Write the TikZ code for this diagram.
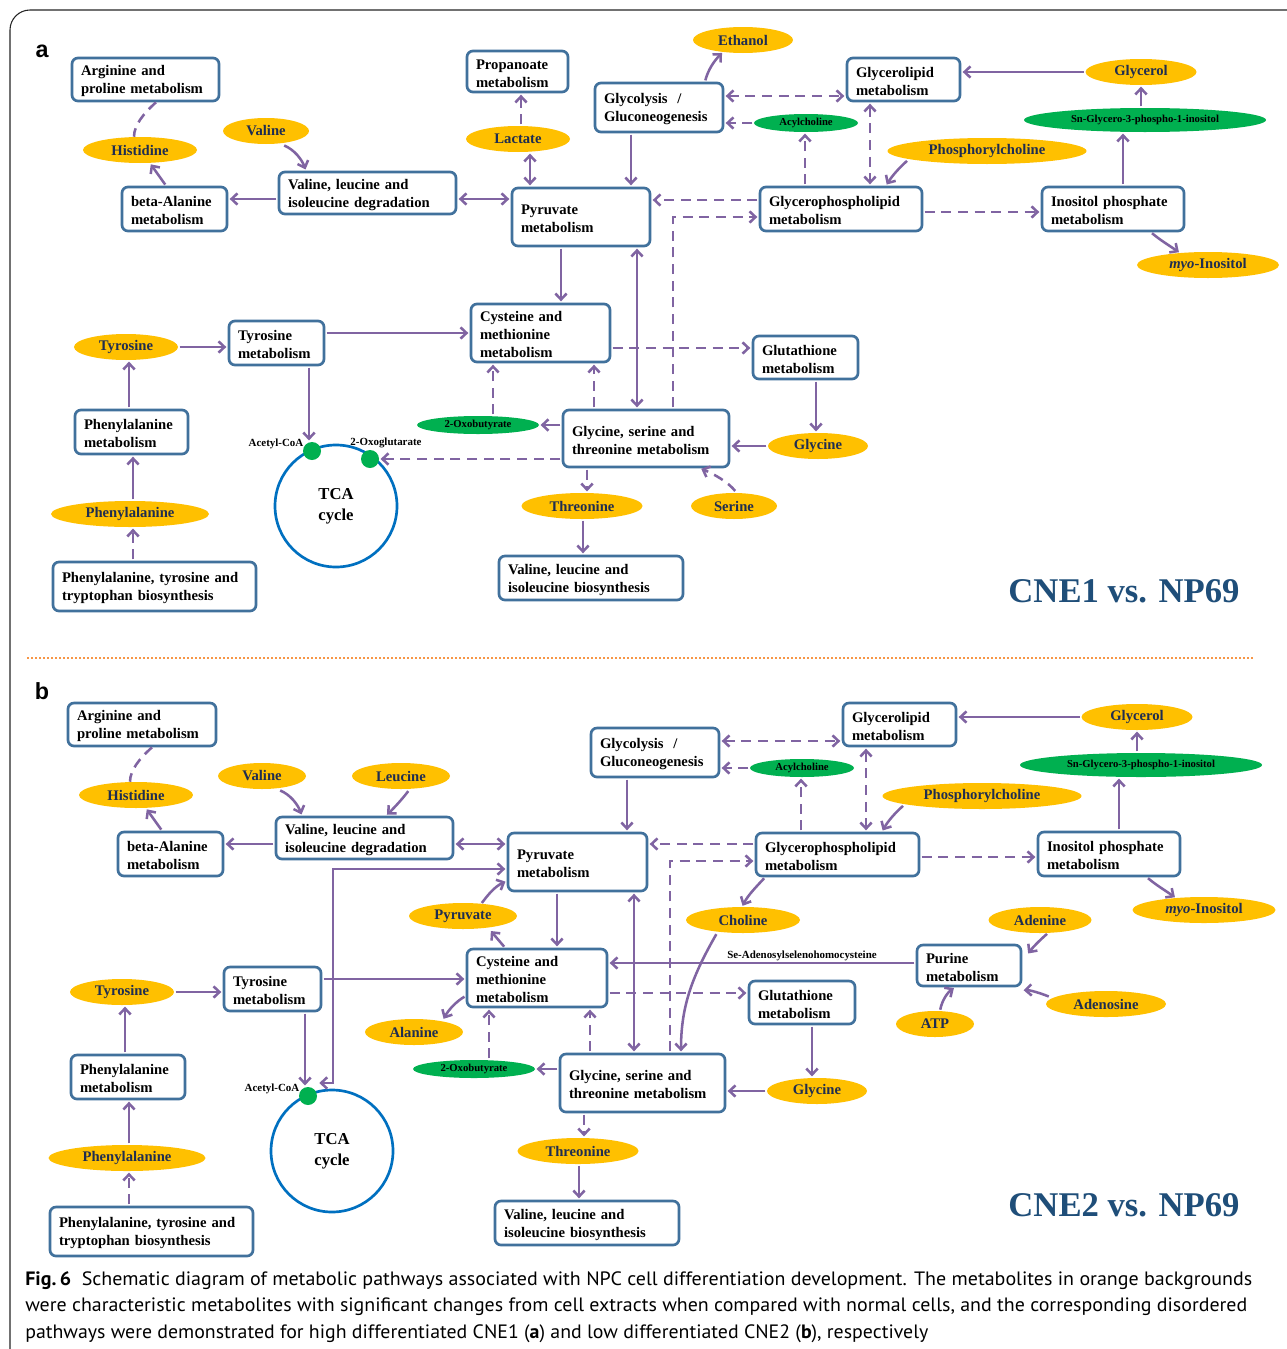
\documentclass[tikz,border=0pt]{standalone}
\usepackage{fontspec}
\usepackage{graphicx}
\setmainfont{Liberation Serif}
\newfontfamily\lblfont{Liberation Sans}
\newfontfamily\capfont{PT Sans}
\usetikzlibrary{arrows.meta,shapes.geometric,calc}
\definecolor{boxblue}{RGB}{65,113,156}
\definecolor{purp}{RGB}{128,100,162}
\definecolor{orangeY}{RGB}{255,192,0}
\definecolor{greenE}{RGB}{0,176,80}
\definecolor{tcablue}{RGB}{0,112,192}
\definecolor{navytxt}{RGB}{31,45,80}
\definecolor{titleblue}{RGB}{31,78,121}
\definecolor{sepor}{RGB}{247,150,70}
\tikzset{
  pb/.tip={Straight Barb[length=4.5pt,width=8.5pt]},
  pbox/.style={draw=boxblue, line width=2pt, rounded corners=4.5pt, fill=white,
    align=left, inner xsep=6.75pt, inner ysep=0pt,
    execute at begin node={\rule{0pt}{10.5pt}},
    font=\bfseries\fontsize{11}{13.5}\selectfont},
  orel/.style={ellipse, fill=orangeY, inner sep=0pt, text=navytxt,
    font=\bfseries\fontsize{11}{13}\selectfont},
  grel/.style={ellipse, fill=greenE, inner sep=0pt, text=black,
    font=\bfseries\fontsize{8}{9}\selectfont},
  smalllbl/.style={inner sep=0pt, font=\bfseries\fontsize{8.2}{9}\selectfont},
  dotnode/.style={circle, fill=greenE, inner sep=0pt, minimum size=13.5pt},
  tcanode/.style={circle, draw=tcablue, line width=2pt, minimum size=91.5pt,
    align=center, font=\bfseries\fontsize{12.5}{15.5}\selectfont},
  ln/.style={draw=purp, line width=1.9pt},
  arr/.style={ln, -pb, shorten >=1pt, shorten <=1pt},
  darr/.style={ln, pb-pb, shorten >=1pt, shorten <=1pt},
  dsh/.style={dash pattern=on 7.5pt off 5pt},
}
\newcommand{\PBox}[6]{%
  \pgfmathsetmacro\pbW{(#4-#2)*0.75}%
  \pgfmathsetmacro\pbT{(#4-#2-18)*0.75}%
  \pgfmathsetmacro\pbH{(#5-#3)*0.75}%
  \pgfmathsetmacro\pbX{(#2+#4)/2}%
  \pgfmathsetmacro\pbY{(#3+#5)/2}%
  \node[pbox, minimum width=\pbW pt, minimum height=\pbH pt, text width=\pbT pt] (#1) at (\pbX,\pbY) {#6};}
\newcommand{\PEll}[7]{%
  \pgfmathsetmacro\peW{#4*0.75}%
  \pgfmathsetmacro\peH{#5*0.75}%
  \node[#6, minimum width=\peW pt, minimum height=\peH pt] (#1) at (#2,#3) {#7};}
\begin{document}
\begin{tikzpicture}[x=0.75pt,y=-0.75pt]
\useasboundingbox (0,0) rectangle (1287,1349);
\fill[white] (0,0) rectangle (1287,1349);
% frame and separator
\draw[line width=0.8pt, black!85, rounded corners=15pt] (10,1349) -- (10,10) -- (1287,10);
\draw[sepor, line width=1.6pt, dash pattern=on 1.5pt off 1.5pt] (27,658) -- (1255,658);
\node[font=\lblfont\bfseries\fontsize{17.5}{18}\selectfont] (labA) at (42,51) {a};
\node[font=\lblfont\bfseries\fontsize{17.5}{18}\selectfont] (labB) at (42,691) {b};

% ================= PANEL A =================
\PBox{aArg}{72}{58}{219}{101}{Arginine and\\proline metabolism}
\PBox{aBeta}{122}{187}{227}{231}{beta-Alanine\\metabolism}
\PBox{aVdeg}{279}{172}{456}{214}{Valine, leucine and\\isoleucine degradation}
\PBox{aProp}{467}{51}{568}{92}{Propanoate\\metabolism}
\PBox{aGlyc}{595}{83}{723}{132}{Glycolysis\ \ /\\Gluconeogenesis}
\PBox{aPyr}{512}{188}{650}{246}{Pyruvate\\metabolism}
\PBox{aGlipid}{847}{58}{960}{101}{Glycerolipid\\metabolism}
\PBox{aGphos}{760}{187}{922}{231}{Glycerophospholipid\\metabolism}
\PBox{aInos}{1042}{187}{1184}{231}{Inositol phosphate\\metabolism}
\PBox{aCys}{471}{304}{610}{362}{Cysteine and\\methionine\\metabolism}
\PBox{aTyrM}{229}{321}{324}{365}{Tyrosine\\metabolism}
\PBox{aGlut}{753}{336}{858}{379}{Glutathione\\metabolism}
\PBox{aPheM}{75}{410}{188}{454}{Phenylalanine\\metabolism}
\PBox{aGst}{563}{410}{729}{467}{Glycine, serine and\\threonine metabolism}
\PBox{aPTT}{53}{562}{256}{611}{Phenylalanine, tyrosine and\\tryptophan biosynthesis}
\PBox{aVbio}{499}{556}{683}{600}{Valine, leucine and\\isoleucine biosynthesis}

\PEll{aEth}{743}{40}{100}{26}{orel}{Ethanol}
\PEll{aGlyol}{1141}{72}{111}{26}{orel}{Glycerol}
\PEll{aVal}{266}{131}{86}{26}{orel}{Valine}
\PEll{aHis}{140}{150}{114}{26}{orel}{Histidine}
\PEll{aLac}{518}{139}{104}{26}{orel}{Lactate}
\PEll{aPchol}{987}{151}{199}{26}{orel}{Phosphorylcholine}
\PEll{aMyo}{1208}{265}{142}{26}{orel}{\textit{myo}-Inositol}
\PEll{aTyr}{126}{347}{104}{26}{orel}{Tyrosine}
\PEll{aGlyE}{818}{446}{100}{26}{orel}{Glycine}
\PEll{aThr}{582}{506}{121}{26}{orel}{Threonine}
\PEll{aSer}{734}{506}{86}{26}{orel}{Serine}
\PEll{aPhe}{130}{514}{158}{26}{orel}{Phenylalanine}
\PEll{aAcyl}{806}{123}{104}{18}{grel}{Acylcholine}
\PEll{aSn}{1145}{120}{242}{24}{grel}{Sn-Glycero-3-phospho-1-inositol}
\PEll{aOxob}{478}{425}{122}{18}{grel}{2-Oxobutyrate}

\node[tcanode] (aTCA) at (336,506) {TCA\\cycle};
\node[dotnode] (aAcet) at (312,451) {};
\node[dotnode] (aOxog) at (370,459) {};
\node[smalllbl] (aAcetL) at (276,444) {Acetyl-CoA};
\node[smalllbl] (aOxogL) at (386,443) {2-Oxoglutarate};
\node[font=\bfseries\fontsize{26}{26}\selectfont, text=titleblue] (aTitle) at (1124,591) {CNE1 vs. NP69};

% connectors A
\draw[ln,dsh] (aArg.south -| 156,0) .. controls (144,113) and (134,125) .. (aHis.north -| 134,0);
\draw[arr] (aBeta.north -| 166,0) -- (aHis.south -| 150,0);
\draw[arr] ($(aVal)+(17,14)$) .. controls (295,150) and (302,160) .. (aVdeg.north -| 306,0);
\draw[arr] (aVdeg.west |- 0,199) -- (aBeta.east |- 0,199);
\draw[darr] (aVdeg.east |- 0,199) -- (aPyr.west |- 0,199);
\draw[arr,dsh] (aLac.north -| 521,0) -- (aProp.south -| 521,0);
\draw[darr] (aLac.south -| 530,0) -- (aPyr.north -| 530,0);
\draw[arr] (aGlyc.south -| 631,0) -- (aPyr.north -| 631,0);
\draw[arr] (aGlyc.north -| 705,0) .. controls (708,70) and (714,61) .. ($(aEth)+(-20,12)$);
\draw[darr,dsh] (aGlyc.east |- 0,96) -- (aGlipid.west |- 0,96);
\draw[arr,dsh] (aAcyl.west) -- (aGlyc.east |- aAcyl.west);
\draw[arr,dsh] (aGphos.north -| 805,0) -- (aAcyl.south -| 805,0);
\draw[darr,dsh] (aGlipid.south -| 870,0) -- (aGphos.north -| 870,0);
\draw[arr] ($(aPchol)+(-79,9)$) .. controls (899,168) and (892,176) .. (aGphos.north -| 886,0);
\draw[arr] (aGlyol.west) -- (aGlipid.east |- aGlyol.west);
\draw[arr] (aSn.north -| 1141,0) -- (aGlyol.south -| 1141,0);
\draw[arr] (aInos.north -| 1123,0) -- (aSn.south -| 1123,0);
\draw[arr] (aInos.south -| 1151,0) .. controls (1160,240) and (1170,246) .. ($(aMyo)+(-28,-12)$);
\draw[arr,dsh] (aGphos.east |- 0,212) -- (aInos.west |- 0,212);
\draw[arr,dsh] (aGphos.west |- 0,200) -- (aPyr.east |- 0,200);
\draw[arr,dsh] (aGst.north -| 673,0) |- (aGphos.west |- 0,217);
\draw[arr] (aPyr.south -| 561,0) -- (aCys.north -| 561,0);
\draw[darr] (aPyr.south -| 637,0) -- (aGst.north -| 637,0);
\draw[arr] (aTyrM.east |- 0,333) -- (aCys.west |- 0,333);
\draw[arr,dsh] (aCys.east |- 0,348) -- (aGlut.west |- 0,348);
\draw[arr] (aGlut.south -| 816,0) -- (aGlyE.north -| 816,0);
\draw[arr] (aGlyE.west) -- (aGst.east |- aGlyE.west);
\draw[arr] (aGst.west |- aOxob.east) -- (aOxob.east);
\draw[arr,dsh] (aOxob.north -| 493,0) -- (aCys.south -| 493,0);
\draw[arr,dsh] (aGst.north -| 594,0) -- (aCys.south -| 594,0);
\draw[arr,dsh] (aGst.west |- aOxog.east) -- (aOxog.east);
\draw[arr,dsh] (aGst.south -| 587,0) -- (aThr.north -| 587,0);
\draw[arr,dsh] ($(aSer)+(2,-14)$) .. controls (728,482) and (714,474) .. (aGst.south -| 700,0);
\draw[arr] (aThr.south -| 583,0) -- (aVbio.north -| 583,0);
\draw[arr] (aTyrM.south -| 309,0) -- (aAcet.north -| 309,0);
\draw[arr] (aTyr.east) -- (aTyrM.west |- aTyr.east);
\draw[arr] (aPheM.north -| 129,0) -- (aTyr.south -| 129,0);
\draw[arr] (aPhe.north -| 133,0) -- (aPheM.south -| 133,0);
\draw[arr,dsh] (aPTT.north -| 133,0) -- (aPhe.south -| 133,0);

% ================= PANEL B =================
\PBox{bArg}{68}{703}{216}{746}{Arginine and\\proline metabolism}
\PBox{bBeta}{118}{832}{223}{876}{beta-Alanine\\metabolism}
\PBox{bVdeg}{276}{817}{453}{859}{Valine, leucine and\\isoleucine degradation}
\PBox{bGlyc}{591}{728}{719}{777}{Glycolysis\ \ /\\Gluconeogenesis}
\PBox{bPyr}{508}{833}{647}{891}{Pyruvate\\metabolism}
\PBox{bGlipid}{843}{703}{956}{746}{Glycerolipid\\metabolism}
\PBox{bGphos}{756}{833}{919}{876}{Glycerophospholipid\\metabolism}
\PBox{bInos}{1038}{832}{1180}{876}{Inositol phosphate\\metabolism}
\PBox{bCys}{467}{949}{607}{1007}{Cysteine and\\methionine\\metabolism}
\PBox{bTyrM}{224}{967}{321}{1011}{Tyrosine\\metabolism}
\PBox{bGlut}{749}{981}{855}{1024}{Glutathione\\metabolism}
\PBox{bPur}{917}{945}{1021}{986}{Purine\\metabolism}
\PBox{bPheM}{71}{1055}{185}{1099}{Phenylalanine\\metabolism}
\PBox{bGst}{560}{1054}{725}{1112}{Glycine, serine and\\threonine metabolism}
\PBox{bPTT}{50}{1207}{253}{1256}{Phenylalanine, tyrosine and\\tryptophan biosynthesis}
\PBox{bVbio}{495}{1201}{679}{1245}{Valine, leucine and\\isoleucine biosynthesis}

\PEll{bGlyol}{1137}{717}{111}{26}{orel}{Glycerol}
\PEll{bVal}{262}{776}{88}{26}{orel}{Valine}
\PEll{bLeu}{401}{776}{98}{26}{orel}{Leucine}
\PEll{bHis}{136}{795}{114}{26}{orel}{Histidine}
\PEll{bPchol}{982}{796}{199}{26}{orel}{Phosphorylcholine}
\PEll{bMyo}{1204}{910}{143}{26}{orel}{\textit{myo}-Inositol}
\PEll{bPyrE}{463}{916}{108}{26}{orel}{Pyruvate}
\PEll{bChol}{743}{920}{114}{26}{orel}{Choline}
\PEll{bAde}{1040}{920}{103}{26}{orel}{Adenine}
\PEll{bTyr}{122}{992}{104}{26}{orel}{Tyrosine}
\PEll{bAla}{414}{1032}{98}{26}{orel}{Alanine}
\PEll{bAdo}{1106}{1004}{120}{26}{orel}{Adenosine}
\PEll{bATP}{935}{1024}{78}{26}{orel}{ATP}
\PEll{bGlyE}{817}{1091}{100}{26}{orel}{Glycine}
\PEll{bThr}{578}{1151}{121}{26}{orel}{Threonine}
\PEll{bPhe}{127}{1158}{157}{26}{orel}{Phenylalanine}
\PEll{bAcyl}{802}{768}{104}{18}{grel}{Acylcholine}
\PEll{bSn}{1141}{765}{242}{24}{grel}{Sn-Glycero-3-phospho-1-inositol}
\PEll{bOxob}{474}{1069}{122}{18}{grel}{2-Oxobutyrate}

\node[tcanode] (bTCA) at (332,1151) {TCA\\cycle};
\node[dotnode] (bAcet) at (308,1096) {};
\node[smalllbl] (bAcetL) at (272,1089) {Acetyl-CoA};
\node[smalllbl] (bSeL) at (802,956) {Se-Adenosylselenohomocysteine};
\node[font=\bfseries\fontsize{26}{26}\selectfont, text=titleblue] (bTitle) at (1124,1205) {CNE2 vs. NP69};

% connectors B
\draw[ln,dsh] (bArg.south -| 152,0) .. controls (140,758) and (130,770) .. (bHis.north -| 130,0);
\draw[arr] (bBeta.north -| 162,0) -- (bHis.south -| 146,0);
\draw[arr] ($(bVal)+(17,14)$) .. controls (291,795) and (298,805) .. (bVdeg.north -| 302,0);
\draw[arr] ($(bLeu)+(8,14)$) .. controls (404,797) and (395,807) .. (bVdeg.north -| 386,0);
\draw[arr] (bVdeg.west |- 0,844) -- (bBeta.east |- 0,844);
\draw[darr] (bVdeg.east |- 0,844) -- (bPyr.west |- 0,844);
\draw[darr] (bPyr.west |- 0,869) -| (333,1083) -- ($(bAcet)+(10,-13)$);
\draw[arr] (bTyrM.south -| 305,0) -- (bAcet.north -| 305,0);
\draw[arr] (bTyrM.east |- 0,979) -- (bCys.west |- 0,979);
\draw[arr] ($(bPyrE)+(18,-12)$) .. controls (488,895) and (494,887) .. (bPyr.west |- 0,881);
\draw[arr] (bCys.north -| 505,0) -- ($(bPyrE)+(27,14)$);
\draw[arr] (bCys.west |- 0,996) .. controls (457,1001) and (449,1009) .. ($(bAla)+(29,-12)$);
\draw[arr] (bGlyc.south -| 627,0) -- (bPyr.north -| 627,0);
\draw[darr,dsh] (bGlyc.east |- 0,741) -- (bGlipid.west |- 0,741);
\draw[arr,dsh] (bAcyl.west) -- (bGlyc.east |- bAcyl.west);
\draw[arr,dsh] (bGphos.north -| 801,0) -- (bAcyl.south -| 801,0);
\draw[darr,dsh] (bGlipid.south -| 866,0) -- (bGphos.north -| 866,0);
\draw[arr] ($(bPchol)+(-78,9)$) .. controls (895,813) and (888,821) .. (bGphos.north -| 882,0);
\draw[arr] (bGlyol.west) -- (bGlipid.east |- bGlyol.west);
\draw[arr] (bSn.north -| 1137,0) -- (bGlyol.south -| 1137,0);
\draw[arr] (bInos.north -| 1119,0) -- (bSn.south -| 1119,0);
\draw[arr] (bInos.south -| 1147,0) .. controls (1156,885) and (1166,891) .. ($(bMyo)+(-28,-12)$);
\draw[arr,dsh] (bGphos.east |- 0,857) -- (bInos.west |- 0,857);
\draw[arr,dsh] (bGphos.west |- 0,844) -- (bPyr.east |- 0,844);
\draw[arr,dsh] (bGst.north -| 670,0) |- (bGphos.west |- 0,861);
\draw[arr] (bGphos.south -| 765,0) .. controls (757,886) and (748,895) .. ($(bChol)+(-1,-13)$);
\draw[arr] ($(bChol)+(-26,13)$) .. controls (693,975) and (681,1005) .. (bGst.north -| 681,0);
\draw[arr] (bPur.west |- 0,963) -- (bCys.east |- 0,963);
\draw[arr] ($(bAde)+(8,13)$) .. controls (1040,940) and (1033,947) .. ($(bPur.east)+(5,-11)$);
\draw[arr] ($(bAdo)+(-56,-7)$) .. controls (1040,993) and (1030,990) .. ($(bPur.south east)+(0,3)$);
\draw[arr] ($(bATP)+(5,-13)$) .. controls (942,1000) and (948,992) .. (bPur.south -| 955,0);
\draw[darr] (bPyr.south -| 634,0) -- (bGst.north -| 634,0);
\draw[arr] (bPyr.south -| 557,0) -- (bCys.north -| 557,0);
\draw[arr,dsh] (bCys.east |- 0,993) -- (bGlut.west |- 0,993);
\draw[arr] (bGlut.south -| 812,0) -- (bGlyE.north -| 812,0);
\draw[arr] (bGlyE.west) -- (bGst.east |- bGlyE.west);
\draw[arr] (bGst.west |- bOxob.east) -- (bOxob.east);
\draw[arr,dsh] (bOxob.north -| 489,0) -- (bCys.south -| 489,0);
\draw[arr,dsh] (bGst.north -| 590,0) -- (bCys.south -| 590,0);
\draw[arr,dsh] (bGst.south -| 584,0) -- (bThr.north -| 584,0);
\draw[arr] (bThr.south -| 579,0) -- (bVbio.north -| 579,0);
\draw[arr] (bTyr.east) -- (bTyrM.west |- bTyr.east);
\draw[arr] (bPheM.north -| 125,0) -- (bTyr.south -| 125,0);
\draw[arr] (bPhe.north -| 129,0) -- (bPheM.south -| 129,0);
\draw[arr,dsh] (bPTT.north -| 129,0) -- (bPhe.south -| 129,0);

% caption
\node[anchor=base west, inner sep=0pt, font=\capfont\fontsize{14.5}{17}\selectfont] (cap1) at (25,1285)
  {\resizebox{920.25pt}{\height}{\textbf{Fig.\,6}\ \ Schematic diagram of metabolic pathways associated with NPC cell differentiation development. The metabolites in orange backgrounds}};
\node[anchor=base west, inner sep=0pt, font=\capfont\fontsize{14.5}{17}\selectfont] (cap2) at (25,1311)
  {\resizebox{916.5pt}{\height}{were characteristic metabolites with significant changes from cell extracts when compared with normal cells, and the corresponding disordered}};
\node[anchor=base west, inner sep=0pt, font=\capfont\fontsize{14.5}{17}\selectfont] (cap3) at (25,1338)
  {\resizebox{677.25pt}{\height}{pathways were demonstrated for high differentiated CNE1 (\textbf{a}) and low differentiated CNE2 (\textbf{b}), respectively}};
\end{tikzpicture}
\end{document}
